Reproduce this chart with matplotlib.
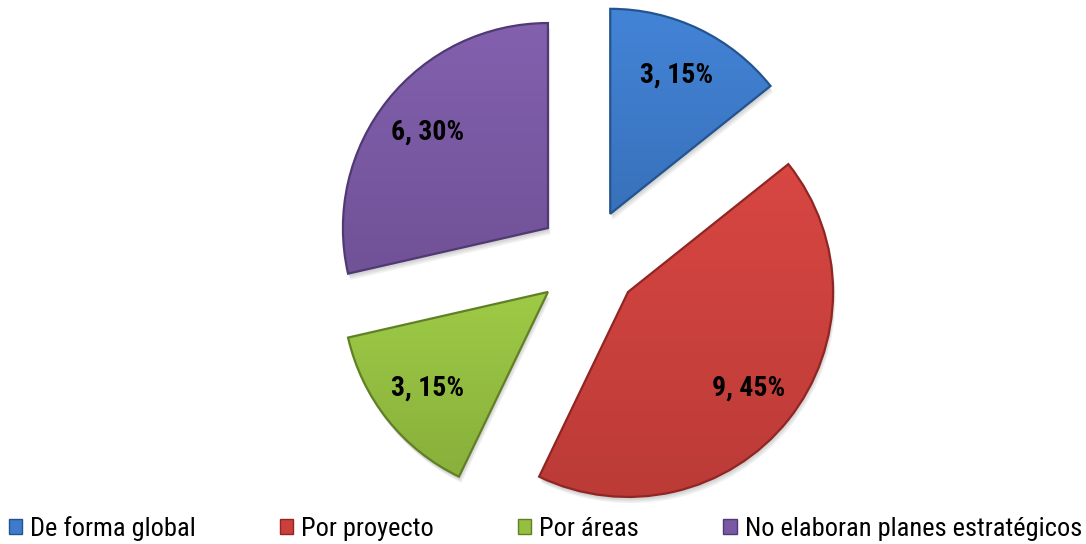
import numpy as np
import matplotlib.pyplot as plt
from matplotlib.colors import to_rgb
from matplotlib.patches import Patch, Wedge

# Planes estratégicos: número de respuestas por tipo
categorias = ['De forma global', 'Por proyecto', 'Por áreas', 'No elaboran planes estratégicos']
valores = [3, 9, 3, 6]
porcentajes = [15, 45, 15, 30]

colores = ['#3d7bcb', '#cc403c', '#94bf40', '#7a59a4']
bordes = ['#24548f', '#8f2623', '#617f25', '#503a72']

plt.rcParams['font.family'] = ['Roboto Condensed', 'Liberation Sans Narrow', 'PT Sans Narrow',
                               'Archivo Narrow', 'DejaVu Sans']

fig = plt.figure(figsize=(10.86, 5.44), dpi=100)
ax = fig.add_axes([0, 0, 1, 1])

# 205 px per unit radius, pie centred at pixel (588, 260)
escala = 205.0
limx = (-588 / escala, (1086 - 588) / escala)
limy = (-(544 - 260) / escala, 260 / escala)

etiquetas = iter([f'{v}, {p}%' for v, p in zip(valores, porcentajes)])

wedges, textos, autotextos = ax.pie(
    valores,
    explode=[0.25] * len(valores),
    colors=colores,
    startangle=90,
    counterclock=False,
    radius=1.0,
    autopct=lambda pct: next(etiquetas),
    pctdistance=0.75,
    textprops=dict(fontsize=20, fontweight='bold', color='black'),
    wedgeprops=dict(linewidth=1.6),
    frame=True,
)
ax.set_xlim(*limx)
ax.set_ylim(*limy)
ax.set_aspect('auto')
ax.axis('off')

# soft drop shadow under each slice
for w in wedges:
    for dx, dy in [(0.012, -0.030), (0.008, -0.022), (0.004, -0.014)]:
        ax.add_patch(Wedge((w.center[0] + dx, w.center[1] + dy), w.r, w.theta1, w.theta2,
                           facecolor='black', edgecolor='none', alpha=0.06, zorder=1))

# light vertical gradient clipped to each slice, dark bevel edge on top
for w, c, b in zip(wedges, colores, bordes):
    rgb = np.array(to_rgb(c))
    t = np.linspace(0, 1, 256)[:, None]
    claro = np.clip(rgb * 1.04 + 0.015, 0, 1)
    oscuro = rgb * 0.92
    grad = (claro * (1 - t) + oscuro * t)[:, None, :]
    x0, y0, x1, y1 = w.get_path().get_extents().extents
    img = ax.imshow(grad, extent=(x0, x1, y0, y1), origin='upper',
                    aspect='auto', zorder=2, interpolation='bilinear')
    img.set_clip_path(w)
    w.set_facecolor('none')
    w.set_edgecolor(b)
    w.set_zorder(3)

for t in autotextos:
    t.set_zorder(5)

ax.set_xlim(*limx)
ax.set_ylim(*limy)

handles = [Patch(facecolor=c, edgecolor=b, linewidth=1) for c, b in zip(colores, bordes)]
fig.legend(handles, categorias, loc='lower left', bbox_to_anchor=(-0.014, -0.038),
           ncol=4, frameon=False, fontsize=19, handlelength=0.5, handleheight=0.5,
           handletextpad=0.3, columnspacing=3.2)

fig.savefig('out.png', dpi=100)
